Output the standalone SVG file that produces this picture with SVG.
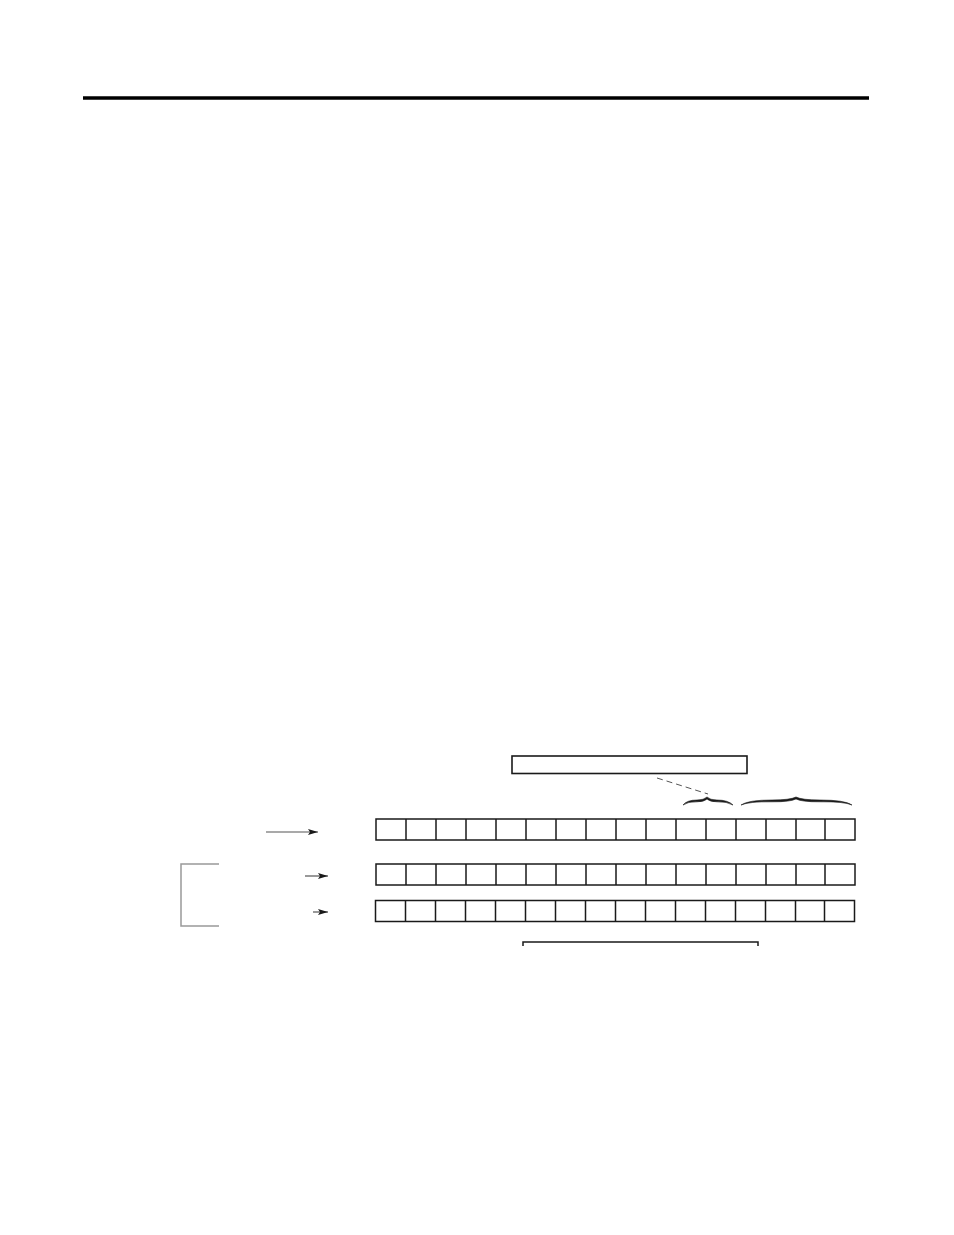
<svg xmlns="http://www.w3.org/2000/svg" width="954" height="1235" viewBox="0 0 954 1235">
<defs>
<style>
.cell{fill:none;stroke:#1a1a1a;stroke-width:1.5}
.ln{stroke:#1a1a1a;stroke-width:1.5;fill:none}
</style>
<marker id="ah" viewBox="0 0 10 6" refX="10" refY="3" markerWidth="10" markerHeight="6" markerUnits="userSpaceOnUse" orient="auto">
<path d="M0,0 L10,3 L0,6 L2,3 Z" fill="#1a1a1a"/>
</marker>
<g id="cells16">
<rect class="cell" x="0" y="0" width="479" height="21"/>
<path class="ln" d="M30,0V21M60,0V21M90,0V21M120,0V21M150,0V21M180,0V21M210,0V21M240,0V21M270,0V21M300,0V21M330,0V21M360,0V21M390,0V21M420,0V21M449,0V21"/>
</g>
</defs>
<rect width="954" height="1235" fill="#fff"/>
<line x1="83" y1="98" x2="869" y2="98" stroke="#000" stroke-width="3.5"/>
<g id="label-box"><rect x="512" y="756" width="235" height="17.5" fill="none" stroke="#1a1a1a" stroke-width="1.6"/></g>
<g id="brace-small"><path d="M683,805 Q687,800 697,800 Q704,800 707,797 Q710,800 717,800 Q728,800 733,805 Q727,801.5 717,801.8 Q710,802 707,799 Q704,802 697,801.8 Q688,801.5 683,805 Z" fill="#1a1a1a" stroke="#1a1a1a" stroke-width="0.6"/></g>
<g id="brace-large"><path d="M741,805 Q748,800 772,800 Q790,800 796,797 Q802,800 820,800 Q845,800 852,805 Q844,801.5 820,801.8 Q802,802 796,799 Q790,802 772,801.8 Q749,801.5 741,805 Z" fill="#1a1a1a" stroke="#1a1a1a" stroke-width="0.6"/></g>
<g id="row1"><use href="#cells16" x="376" y="819"/></g>
<g id="row2"><use href="#cells16" x="376" y="864"/></g>
<g id="row3"><use href="#cells16" x="375.5" y="900.5"/></g>
<g id="bottom-bracket"><path class="ln" d="M523,946V942H758V946"/></g>
<g id="left-bracket"><path d="M219,864H181V926H219" fill="none" stroke="#999" stroke-width="1.5"/></g>
<g id="connectors">
<line x1="657" y1="778" x2="708" y2="794" stroke="#555" stroke-width="1" stroke-dasharray="6,4"/>
<line x1="266" y1="832" x2="318" y2="832" stroke="#555" stroke-width="1.2" marker-end="url(#ah)"/>
<line x1="305" y1="876" x2="328" y2="876" stroke="#555" stroke-width="1.2" marker-end="url(#ah)"/>
<line x1="313" y1="912" x2="328" y2="912" stroke="#555" stroke-width="1.2" marker-end="url(#ah)"/>
</g>
</svg>
